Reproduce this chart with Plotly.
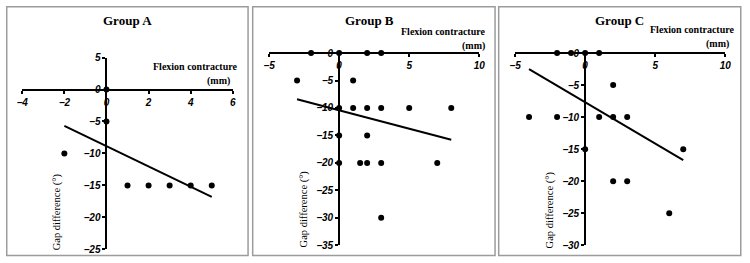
import plotly.graph_objects as go

W, H = 750, 263

# ---------------- data ----------------
groups = ["Group A", "Group B", "Group C"]

x_a = [0, 0, -2, 1, 2, 3, 4, 5]
y_a = [0, -5, -10, -15, -15, -15, -15, -15]
trend_x_a = [-2, 5]
trend_y_a = [-5.7, -16.8]

x_b = [-2, 0, 2, 3, -3, 1, 0, 1, 2, 3, 5, 8, 0, 2, 0, 1.5, 2, 3, 7, 3]
y_b = [0, 0, 0, 0, -5, -5, -10, -10, -10, -10, -10, -10, -15, -15, -20, -20, -20, -20, -20, -30]
trend_x_b = [-3, 8]
trend_y_b = [-8.4, -15.8]

x_c = [-2, -1, 0, 1, 2, -4, -2, 1, 2, 3, 0, 7, 2, 3, 6]
y_c = [0, 0, 0, 0, -5, -10, -10, -10, -10, -10, -15, -15, -20, -20, -25]
trend_x_c = [-4, 7]
trend_y_c = [-2.5, -16.7]

x_ranges = [[-4, 6], [-5, 10], [-5, 10]]
y_ranges = [[-25, 5], [-35, 0], [-30, 0]]
x_dticks = [2, 5, 5]
y_dticks = [5, 5, 5]

x_title_1 = "Flexion contracture"
x_title_2 = "(mm)"
y_title = "Gap difference (°)"

# ---------------- layout constants (pixels) ----------------
plot_px = [
    dict(x=(16.5, 230.5), y=(54, 255)),
    dict(x=(267.3, 481), y=(49.3, 250.7)),
    dict(x=(517.3, 731), y=(49.3, 250.7)),
]
border_px = [(0.75, 246), (250.7, 497), (500.7, 746.7)]
title_px = [(123, 15), (369, 15), (623, 15)]
flex_px = [(238, 63), (490, 27), (743, 25)]
mm_px = [(230, 79), (489, 42), (737, 40)]
gap_px = [(52, 216), (303, 213), (553, 214)]


def px_x(v):
    return v / W


def px_y(v):
    return 1 - v / H


data_sets = [
    (x_a, y_a, trend_x_a, trend_y_a),
    (x_b, y_b, trend_x_b, trend_y_b),
    (x_c, y_c, trend_x_c, trend_y_c),
]

fig = go.Figure()
serif = "Liberation Serif, Times New Roman, serif"
sans = "Liberation Sans, Arial, sans-serif"

layout = dict(
    width=W, height=H,
    margin=dict(l=0, r=0, t=0, b=0),
    paper_bgcolor="white", plot_bgcolor="rgba(0,0,0,0)",
    showlegend=False,
    shapes=[], annotations=[],
)

for i, (xs, ys, tx, ty) in enumerate(data_sets):
    n = "" if i == 0 else str(i + 1)
    xa, ya = "x" + n, "y" + n
    fig.add_trace(go.Scatter(x=xs, y=ys, mode="markers", xaxis=xa, yaxis=ya,
                             marker=dict(color="black", size=6), cliponaxis=False))
    fig.add_trace(go.Scatter(x=tx, y=ty, mode="lines", xaxis=xa, yaxis=ya,
                             line=dict(color="black", width=2), cliponaxis=False))

    xd = [px_x(plot_px[i]["x"][0]), px_x(plot_px[i]["x"][1])]
    yd = [px_y(plot_px[i]["y"][1]), px_y(plot_px[i]["y"][0])]
    xr, yr = x_ranges[i], y_ranges[i]
    # axes cross at zero
    x_pos = yd[0] + (0 - yr[0]) / (yr[1] - yr[0]) * (yd[1] - yd[0])
    y_pos = xd[0] + (0 - xr[0]) / (xr[1] - xr[0]) * (xd[1] - xd[0])

    tickfont = dict(family=sans, size=10, color="black", weight="bold", style="italic")
    layout["xaxis" + n] = dict(
        domain=xd, range=xr, anchor="free", position=x_pos, side="bottom",
        showline=True, linecolor="black", linewidth=2, showgrid=False, zeroline=False,
        ticks="outside", ticklen=3, tickwidth=1.5, tickcolor="black",
        dtick=x_dticks[i], tick0=0, tickfont=tickfont, fixedrange=True,
    )
    layout["yaxis" + n] = dict(
        domain=yd, range=yr, anchor="free", position=y_pos, side="left",
        showline=True, linecolor="black", linewidth=2, showgrid=False, zeroline=False,
        ticks="outside", ticklen=3, tickwidth=1.5, tickcolor="black",
        dtick=y_dticks[i], tick0=0, tickfont=tickfont, fixedrange=True,
    )

    bx0, bx1 = border_px[i]
    layout["shapes"].append(dict(
        type="rect", xref="paper", yref="paper",
        x0=px_x(bx0), x1=px_x(bx1), y0=px_y(261.5), y1=px_y(0.75),
        line=dict(color="#9c9c9c", width=1.5), fillcolor="rgba(0,0,0,0)", layer="below",
    ))

    layout["annotations"] += [
        dict(text="<b>" + groups[i] + "</b>", xref="paper", yref="paper",
             x=px_x(title_px[i][0]), y=px_y(title_px[i][1]), xanchor="center", yanchor="middle",
             showarrow=False, font=dict(family=serif, size=13, color="black")),
        dict(text="<b>" + x_title_1 + "</b>", xref="paper", yref="paper",
             x=px_x(flex_px[i][0]), y=px_y(flex_px[i][1]), xanchor="right", yanchor="middle",
             showarrow=False, font=dict(family=serif, size=10, color="black")),
        dict(text="<b>" + x_title_2 + "</b>", xref="paper", yref="paper",
             x=px_x(mm_px[i][0]), y=px_y(mm_px[i][1]), xanchor="right", yanchor="middle",
             showarrow=False, font=dict(family=serif, size=10, color="black")),
        dict(text=y_title, xref="paper", yref="paper", textangle=-90,
             x=px_x(gap_px[i][0]), y=px_y(gap_px[i][1]), xanchor="center", yanchor="middle",
             showarrow=False, font=dict(family=serif, size=10.5, color="black")),
    ]

fig.update_layout(**layout)
fig.write_html("out.html")
